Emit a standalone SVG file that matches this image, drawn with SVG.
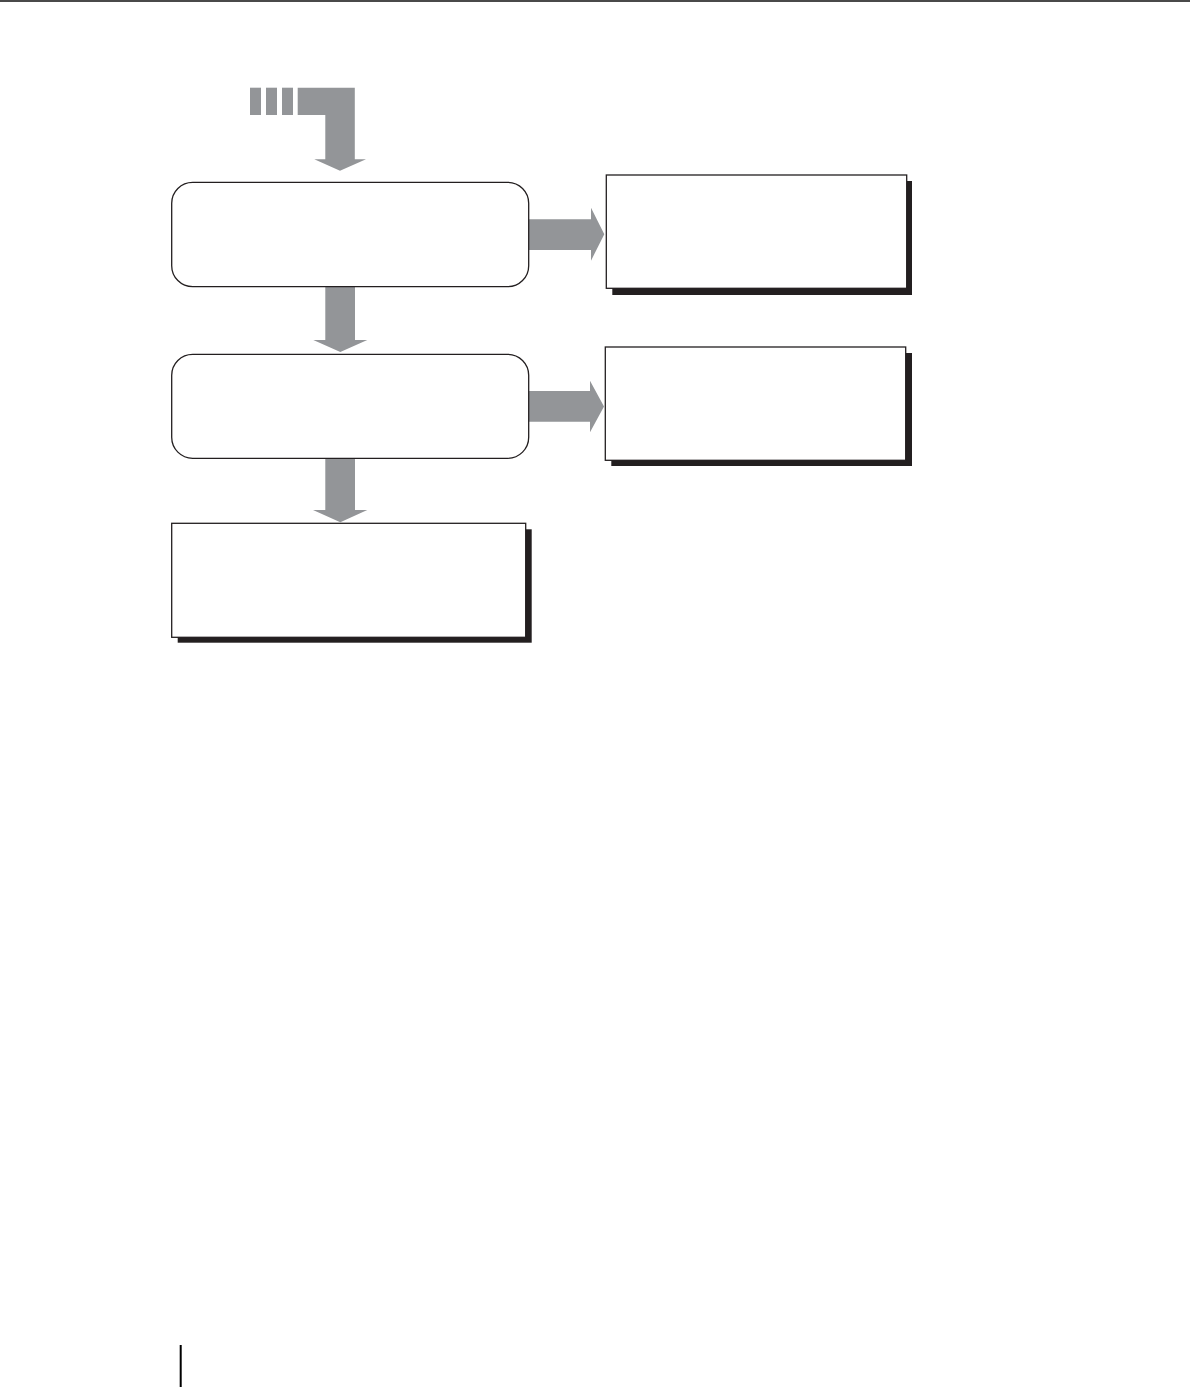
<svg xmlns="http://www.w3.org/2000/svg" width="1190" height="1387" viewBox="0 0 1190 1387">
<style>
.arrow{fill:#939598;stroke:none}
.rbox{fill:#fff;stroke:#231f20;stroke-width:1.3}
.box{fill:#fff;stroke:#231f20;stroke-width:1.3}
.shadow{fill:#231f20;stroke:none}
.rule{fill:#4a4a4a;stroke:none}
</style>
<rect class="rule" x="0" y="0" width="1190" height="2"/>
<rect x="179.7" y="1345" width="2" height="42" fill="#000"/>
<g id="connectors">
  <rect class="arrow" x="250" y="87.7" width="11" height="27.3"/>
  <rect class="arrow" x="266" y="87.7" width="11" height="27.3"/>
  <rect class="arrow" x="282" y="87.7" width="11" height="27.3"/>
  <path class="arrow" d="M297.7,87.7 H354.8 V159.3 H366 L340,170.7 L314.3,159.3 H325.3 V115 H297.7 Z"/>
  <path class="arrow" d="M325.3,286.7 H355 V340 H367.3 L340.3,352 L313.3,340 H325.3 Z"/>
  <path class="arrow" d="M325.3,458.3 H355 V510 H367.3 L340.3,522.3 L313 510 H325.3 Z"/>
  <path class="arrow" d="M528.7,219.3 H591 V207.7 L604.3,234.2 L591,260.7 V250 H528.7 Z"/>
  <path class="arrow" d="M528.7,391 H590 V380.7 L604,406.5 L590,432.3 V421.7 H528.7 Z"/>
</g>
<g id="node-process-1">
  <rect class="rbox" x="171.7" y="182.3" width="357" height="104.4" rx="21" ry="21"/>
</g>
<g id="node-process-2">
  <rect class="rbox" x="171.7" y="354.3" width="357" height="104" rx="21" ry="21"/>
</g>
<g id="node-result-1">
  <rect class="shadow" x="612.3" y="181" width="299.7" height="114"/>
  <rect class="box" x="606.3" y="175" width="300.4" height="113.3"/>
</g>
<g id="node-result-2">
  <rect class="shadow" x="611.3" y="353" width="300.7" height="113"/>
  <rect class="box" x="605.3" y="347" width="300.4" height="113.3"/>
</g>
<g id="node-result-3">
  <rect class="shadow" x="177.7" y="529.3" width="354" height="113.4"/>
  <rect class="box" x="171.7" y="523.3" width="354" height="114"/>
</g>
</svg>
